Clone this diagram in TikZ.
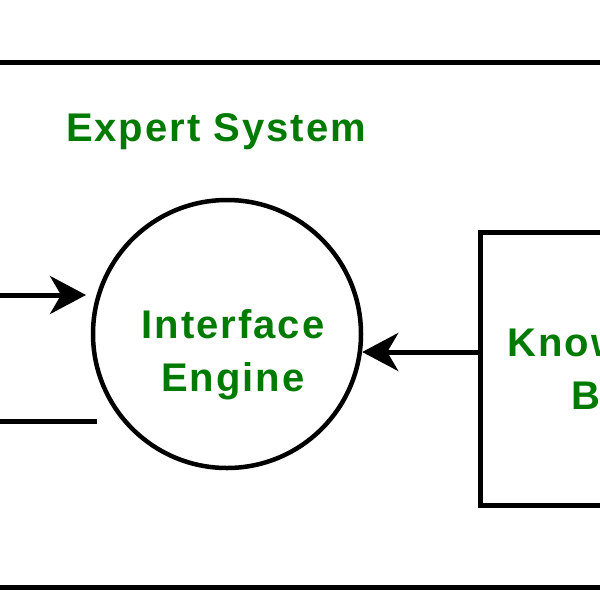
\documentclass[tikz,border=0pt]{standalone}
\usepackage{fontspec}
\setmainfont{Liberation Sans}[LetterSpace=5]
\usetikzlibrary{arrows.meta}
\definecolor{tgreen}{RGB}{0,122,0}
\begin{document}
\begin{tikzpicture}[x=1pt,y=-1pt,
  box/.style={draw=black,line width=5pt,outer sep=0pt,inner sep=0pt},
  lbl/.style={text=tgreen,font=\fontsize{40}{53}\selectfont\bfseries,align=center,inner sep=0pt},
  conn/.style={draw=black,line width=5pt},
  arr/.style={conn,-{Stealth[length=36pt,width=38pt,inset=11pt]}}]
\useasboundingbox (0,0) rectangle (600,600);
\clip (0,0) rectangle (600,600);
\node[box,minimum width=900pt,minimum height=525pt] (sys) at (250,324.5) {};
\node[lbl] (title) at (216,132) {Expert System};
\node[draw=black,line width=4.5pt,circle,minimum size=268pt,inner sep=0pt] (ie) at (227,334) {};
\node[lbl] (ietxt) at (233,355) {Interface\\Engine};
\node[box,minimum width=286pt,minimum height=273pt] (kb) at (623,368.5) {};
\node[lbl] (kbtxt) at (622,369) {Knowledge\\Base};
\coordinate (inS) at (-10,295);
\coordinate (inE) at (86,295);
\draw[arr] (inS) -- (inE);
\coordinate (outS) at (97,421);
\coordinate (outE) at (-10,421);
\draw[conn] (outS) -- (outE);
\draw[arr] (kb.west |- 0,352) -- (ie.-7.6 |- 0,352);
\end{tikzpicture}
\end{document}
